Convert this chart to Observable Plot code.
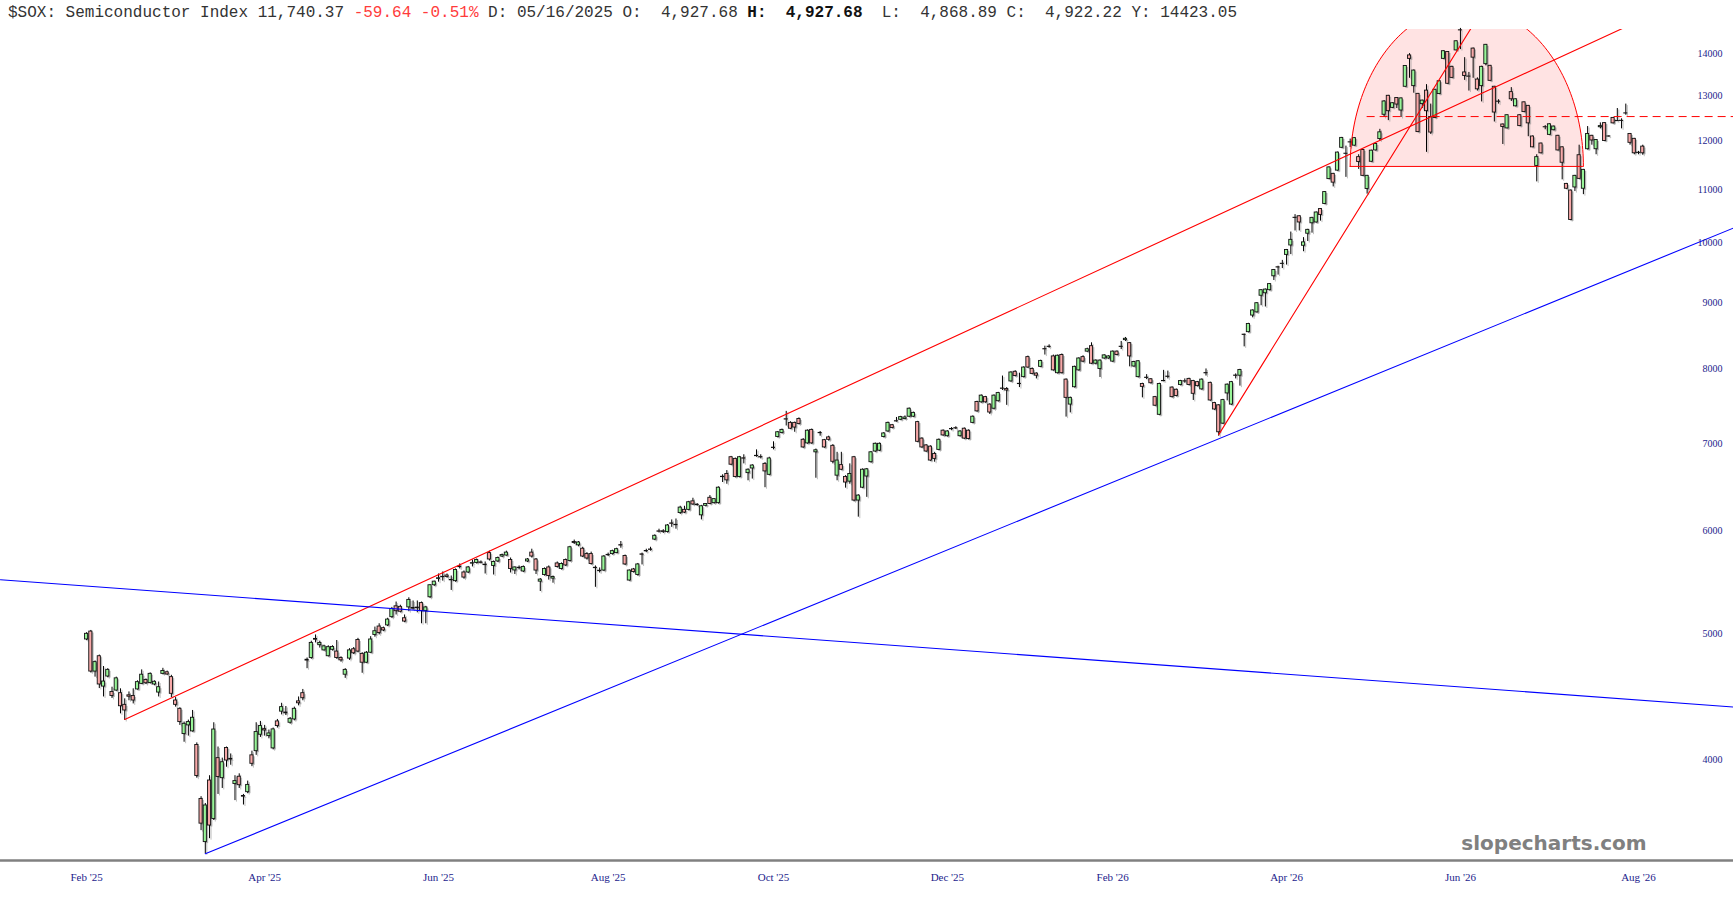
<!DOCTYPE html>
<html>
<head>
<meta charset="utf-8">
<script src="https://cdn.jsdelivr.net/npm/d3@7"></script>
<script src="https://cdn.jsdelivr.net/npm/@observablehq/plot@0.6"></script>
<style>
  html, body { margin: 0; padding: 0; background: #fff; overflow: hidden; }
  #wrap { position: relative; width: 1733px; height: 900px; }
  #hdr { position: absolute; left: 8px; top: 5px; margin: 0; font-family: "Liberation Mono", monospace; font-size: 16px; line-height: 16px; color: #333; white-space: pre; }
  #hdr .neg { color: #ff3b3b; }
  #hdr b { color: #111; }
  #wm { position: absolute; left: 1454px; top: 833px; width: 200px; text-align: center; font-family: "DejaVu Sans", sans-serif; font-weight: bold; font-size: 20px; line-height: 20px; color: #808080; }
  svg { display: block; max-width: none !important; }
</style>
</head>
<body>
<div id="wrap">
  <div id="chart"></div>
  <pre id="hdr">$SOX: Semiconductor Index 11,740.37 <span class="neg">-59.64 -0.51%</span> D: 05/16/2025 O:  4,927.68 <b>H:  4,927.68</b>  L:  4,868.89 C:  4,922.22 Y: 14423.05</pre>
  <div id="wm">slopecharts.com</div>
</div>
<script>
// ---- Daily candles (trading-day index 0..367) ----
const open = [4950,5020,4676,4805,4553,4635,4510,4521,4500,4408,
4483,4478,4530,4575,4607,4582,4570,4505,4657,4670,
4630,4442,4377,4185,4250,4205,4105,3730,3455,3854,
3600,4010,3870,4083,4005,3830,3880,3750,3775,4030,
4060,4180,4222,4170,4080,4280,4355,4348,4270,4295,
4435,4500,4775,4790,4955,4900,4855,4805,4860,4845,
4790,4650,4785,4865,4945,4825,4750,4835,4990,5065,
5050,5075,5150,5250,5245,5140,5240,5235,5238,5280,
5205,5335,5450,5512,5528,5545,5502,5490,5628,5575,
5575,5663,5670,5675,5652,5770,5640,5685,5735,5745,
5700,5595,5622,5585,5685,5775,5705,5485,5550,5625,
5515,5665,5610,5700,5690,5885,5850,5815,5760,5760,
5622,5592,5594,5752,5760,5770,5852,5740,5496,5605,
5550,5757,5792,5807,5910,5997,5998,5990,6082,6067,
6195,6230,6230,6325,6287,6170,6275,6365,6305,6305,
6607,6640,6840,6820,6605,6827,6650,6705,6857,6842,
6760,6630,6957,7090,7140,7317,7270,7270,7320,7055,
7010,7180,6900,7138,7050,7085,6980,6620,6745,6605,
6550,6840,6334,6480,6610,6780,6910,6920,7090,7160,
7240,7292,7310,7320,7350,7350,7280,7070,6985,6970,
6880,6930,7170,7100,7192,7202,7100,7195,7170,7270,
7545,7540,7610,7510,7455,7555,7727,7720,7825,7960,
7792,7885,8170,8000,7935,8030,8287,8322,8180,7940,
8200,7850,7510,7745,7980,8170,8250,8330,8075,8000,
8150,8150,8105,8250,8322,8420,8375,8035,7885,7790,
7877,7855,7610,7375,7832,7892,7740,7710,7775,7827,
7860,7830,7815,7715,7942,7805,7530,7500,7260,7660,
7510,7907,7905,8502,8540,8795,8845,9110,9150,9200,
9430,9582,9638,9795,9960,10462,10490,9955,10170,10360,
10375,10625,10720,11205,11310,11375,11845,11722,11962,11890,
11650,11800,11010,11555,11790,12030,12560,12990,12715,12940,
12655,13200,13955,13215,13035,12800,13110,12510,12490,13030,
13870,14040,13675,14080,14592,13540,13442,14125,13370,13215,
13740,13700,13200,12857,12345,12260,13075,12750,12550,12840,
12760,12085,11470,11935,12287,12120,12220,12100,11855,11110,
10980,11040,11690,11015,11815,12100,11815,12285,12375,12087,
12490,12418,12427,12592,12140,12035,11742,11870];

const high = [5010,5030,4765,4815,4718,4700,4548,4630,4535,4455,
4510,4535,4600,4690,4615,4665,4600,4590,4703,4680,
4645,4465,4385,4275,4290,4364,4120,3745,3700,3887,
4270,4090,4010,4090,4040,3887,3900,3760,3850,4060,
4270,4280,4250,4215,4230,4295,4420,4395,4310,4390,
4470,4530,4790,4935,4990,4935,4900,4895,4895,4941,
4800,4700,4870,4880,4960,4835,4845,4975,5060,5090,
5060,5140,5240,5290,5260,5170,5330,5300,5300,5290,
5250,5455,5490,5560,5580,5560,5540,5610,5660,5590,
5635,5700,5710,5690,5680,5790,5690,5730,5760,5790,
5720,5630,5640,5640,5715,5810,5715,5515,5620,5640,
5540,5680,5670,5710,5840,5905,5890,5830,5775,5780,
5640,5620,5745,5770,5800,5820,5890,5750,5600,5615,
5665,5770,5810,5830,5960,6020,6015,6070,6120,6130,
6270,6270,6325,6360,6300,6280,6300,6390,6355,6490,
6630,6680,6850,6830,6850,6870,6700,6750,6930,6870,
6775,6840,7030,7160,7190,7420,7285,7280,7335,7070,
7180,7190,6940,7160,7060,7100,6995,6900,6900,6620,
6760,6850,6400,6700,6705,6910,7015,7015,7145,7280,
7250,7340,7355,7360,7465,7410,7290,7080,6995,6980,
6900,7065,7180,7170,7210,7220,7170,7205,7180,7360,
7555,7640,7620,7520,7640,7675,7900,7740,7960,7975,
7940,8030,8185,8015,7945,8125,8330,8350,8200,8200,
8215,7860,7610,8040,8160,8190,8300,8380,8130,8130,
8205,8190,8260,8260,8400,8460,8385,8110,8120,7800,
7920,7865,7620,7800,7980,7970,7750,7720,7840,7860,
7870,7840,7825,7860,8000,7815,7540,7510,7580,7790,
7825,7930,7995,8510,8675,8885,9000,9210,9220,9310,
9545,9600,9700,9890,10200,10520,10500,10100,10250,10470,
10570,10635,10960,11450,11320,11755,12065,11880,12030,12060,
11700,11810,11280,11795,11935,12240,12880,13000,12830,12950,
12940,13705,14000,13600,13045,12890,13250,12800,13140,13340,
14070,14050,13690,14320,14640,13900,13540,14140,13410,13690,
14230,13710,13210,12900,12355,12560,13180,12920,12560,12850,
12770,12095,11700,11945,12320,12360,12310,12110,11865,11120,
10990,11280,11900,11400,12300,12110,12020,12380,12385,12100,
12500,12700,12470,12800,12150,12045,11770,11900];

const low = [4940,4665,4630,4537,4470,4625,4458,4515,4338,4287,
4440,4415,4525,4570,4570,4575,4560,4470,4650,4645,
4465,4390,4250,4125,4170,4200,3870,3526,3384,3476,
3590,3760,3800,3946,3960,3719,3800,3690,3765,3950,
4030,4160,4170,4150,4070,4230,4330,4325,4260,4285,
4400,4440,4700,4780,4920,4875,4850,4800,4850,4780,
4755,4620,4770,4820,4835,4662,4745,4830,4970,4990,
5020,5065,5140,5170,5190,5100,5200,5215,5190,5090,
5090,5325,5440,5480,5490,5520,5400,5480,5610,5510,
5565,5630,5660,5660,5560,5690,5550,5675,5725,5740,
5570,5555,5600,5575,5675,5720,5555,5390,5540,5500,
5470,5620,5600,5635,5680,5860,5835,5725,5700,5650,
5430,5570,5585,5735,5750,5765,5820,5645,5490,5570,
5540,5650,5775,5790,5900,5980,5975,5980,6040,6020,
6180,6190,6220,6280,6270,6120,6265,6290,6295,6295,
6540,6520,6740,6595,6595,6760,6560,6580,6840,6820,
6480,6620,6930,7080,7130,7230,7185,7150,7245,6950,
7000,7000,6590,7100,6950,7040,6760,6560,6680,6475,
6520,6320,6150,6470,6370,6770,6900,6910,7080,7150,
7195,7280,7300,7310,7340,7340,7020,6950,6900,6790,
6780,6920,7100,7090,7170,7185,7090,7060,7055,7260,
7410,7530,7530,7380,7440,7545,7700,7500,7815,7890,
7740,7875,8010,7920,7860,8020,8200,8300,7970,7930,
7930,7345,7400,7735,7970,8090,8240,8065,8060,7880,
8140,8140,8095,8190,8280,8400,8030,8025,7875,7600,
7850,7790,7485,7365,7820,7860,7600,7615,7765,7800,
7765,7565,7750,7705,7900,7555,7435,7100,7250,7560,
7500,7860,7760,8320,8530,8760,8835,8950,8930,9190,
9360,9450,9560,9620,9800,10220,10220,9850,10030,10180,
10365,10400,10710,11195,11050,11365,11835,11240,11850,11880,
11400,11260,10910,11545,11780,11990,12500,12430,12700,12700,
12500,13190,13400,13050,12170,12700,11750,12130,12480,13020,
13860,13260,13400,14070,14100,13350,13100,13400,13100,12850,
13700,13330,12400,12800,11915,12250,12860,12740,12300,12610,
12080,11850,11150,11720,12230,12110,12210,11780,11190,11000,
10410,10960,11200,10900,11800,11900,11700,12250,11980,12070,
12360,12410,12250,12550,11900,11700,11700,11690];

const close = [5000,4676,4755,4570,4594,4690,4478,4620,4397,4364,
4472,4442,4589,4650,4580,4657,4592,4548,4681,4652,
4495,4408,4275,4262,4275,4308,3885,3570,3687,3558,
4219,3878,3981,3993,4000,3850,3822,3745,3824,3970,
4200,4245,4212,4190,4220,4245,4390,4342,4300,4377,
4420,4460,4768,4920,4948,4920,4890,4883,4885,4790,
4770,4690,4855,4830,4845,4750,4835,4950,5023,5007,
5030,5128,5225,5205,5200,5110,5310,5228,5232,5205,
5240,5450,5485,5518,5532,5530,5498,5600,5633,5525,
5625,5668,5700,5671,5648,5705,5680,5720,5750,5775,
5610,5625,5618,5630,5705,5735,5594,5505,5610,5540,
5530,5630,5660,5645,5830,5875,5880,5735,5715,5660,
5618,5588,5735,5748,5790,5810,5848,5655,5594,5580,
5655,5753,5788,5803,5950,5993,5990,6060,6078,6063,
6255,6200,6315,6290,6283,6270,6295,6295,6350,6480,
6603,6565,6750,6605,6840,6823,6690,6740,6853,6838,
6670,6825,6953,7150,7180,7313,7195,7210,7255,6960,
7170,7010,6925,7142,6960,7055,6785,6800,6690,6540,
6640,6334,6390,6690,6695,6900,7005,7005,7135,7270,
7205,7288,7345,7340,7455,7400,7030,6960,6910,6800,
6820,7055,7110,7160,7188,7198,7160,7070,7065,7350,
7420,7630,7540,7405,7630,7665,7723,7700,7950,7900,
7788,8020,8020,7930,7905,8115,8283,8318,7980,8190,
7940,7600,7600,8030,8150,8105,8285,8075,8120,8120,
8195,8180,8250,8200,8318,8440,8180,8100,8110,7750,
7873,7800,7495,7790,7828,7888,7610,7625,7830,7823,
7775,7655,7760,7850,7938,7565,7445,7150,7570,7780,
7815,7903,7985,8498,8665,8875,8990,9200,9210,9300,
9535,9578,9642,9880,10060,10458,10375,10015,10240,10460,
10560,10515,10950,11440,11135,11745,12055,11718,11958,12050,
11550,11270,11270,11785,11925,12175,12860,12640,12820,12790,
12930,13695,13870,13585,12180,12880,12640,12170,13130,13330,
14060,13270,13410,14310,14588,13455,13438,13900,13140,13675,
14220,13340,12610,12853,12290,12550,12910,12910,12310,12620,
12370,11855,11650,11730,12283,12350,12300,11790,11535,11015,
10420,11270,11210,11390,12140,12000,12010,12310,11990,12083,
12370,12422,12423,12588,11950,11730,11738,11730];

// ---- axis ticks ----
const xTickIdx = [0, 42, 83, 123, 162, 203, 242, 283, 324, 366];
const xTickLabels = ["Feb '25", "Apr '25", "Jun '25", "Aug '25", "Oct '25", "Dec '25", "Feb '26", "Apr '26", "Jun '26", "Aug '26"];
const yTicks = [4000, 5000, 6000, 7000, 8000, 9000, 10000, 11000, 12000, 13000, 14000];

// ---- drawn annotations (index, price) ----
const redChannel = [[9, 4295], [298.1, 11718]];
const redSteep = [[267, 7120], [298.1, 10379]];
const blueSupport = [[28, 3384], [298.1, 7778]];
const blueFalling = [[0, 5442], [367, 4443]];
const dome = {center: 325.5, halfWidth: 27.5, base: 11460, top: 15230};
const dashedLevel = {from: 302, value: 12520};

// ---- scales ----
const xDomain = [-20.3, 388.4];
const yDomain = [3344, 14612];

const candles = open.map((o, i) => ({i, o, h: high[i], l: low[i], c: close[i], up: close[i] >= o}));

function extend(p0, p1, xa, xb) {
  const s = (Math.log(p1[1]) - Math.log(p0[1])) / (p1[0] - p0[0]);
  const f = x => Math.exp(Math.log(p0[1]) + s * (x - p0[0]));
  return [{x: xa, y: f(xa)}, {x: xb, y: f(xb)}];
}
const red1 = extend(redChannel[0], redChannel[1], redChannel[0][0], xDomain[1]);
const red2 = extend(redSteep[0], redSteep[1], redSteep[0][0], xDomain[1]);
const blue1 = extend(blueSupport[0], blueSupport[1], blueSupport[0][0], xDomain[1]);
const blue2 = extend(blueFalling[0], blueFalling[1], xDomain[0], xDomain[1]);

const domePts = d3.range(0, 121).map(k => {
  const t = Math.PI * k / 120;
  return {x: dome.center + dome.halfWidth * Math.cos(t), y: dome.base * Math.pow(dome.top / dome.base, Math.sin(t))};
});

const GREEN = "#98f598", PINK = "#f7a8a8", NAVY = "#1c1c8c";
const hw = 0.37;

const chart = Plot.plot({
  width: 1733,
  height: 900,
  marginTop: 29,
  marginBottom: 40,
  marginLeft: 0,
  marginRight: 0,
  x: {domain: xDomain, axis: null},
  y: {type: "log", domain: yDomain, axis: null},
  style: {fontFamily: "'Liberation Serif', serif", background: "white", color: NAVY, maxWidth: "none"},
  marks: [
    Plot.areaY(domePts, {x: "x", y1: dome.base, y2: "y", fill: "#ff0000", fillOpacity: 0.11, clip: true}),
    // candle shadows
    Plot.ruleX(candles, {x: "i", y1: "l", y2: "h", stroke: "#8a8a8a", strokeOpacity: 0.55, strokeWidth: 1, dx: 1.5, dy: 1.5}),
    Plot.rect(candles, {x1: d => d.i - hw, x2: d => d.i + hw, y1: "o", y2: "c", fill: "#8a8a8a", fillOpacity: 0.55, dx: 1.8, dy: 1.5}),
    // wicks & bodies
    Plot.ruleX(candles, {x: "i", y1: "l", y2: "h", stroke: "#000", strokeWidth: 1}),
    Plot.rect(candles, {x1: d => d.i - hw, x2: d => d.i + hw, y1: "o", y2: "c", fill: d => d.up ? GREEN : PINK, stroke: "#111", strokeWidth: 0.9}),
    // dome outline
    Plot.line(domePts, {x: "x", y: "y", stroke: "#ff0000", strokeWidth: 1, clip: true}),
    Plot.ruleY([dome.base], {x1: dome.center - dome.halfWidth, x2: dome.center + dome.halfWidth, stroke: "#ff0000", strokeWidth: 1}),
    Plot.ruleY([dashedLevel.value], {x1: dashedLevel.from, x2: xDomain[1], stroke: "#ff0000", strokeWidth: 1, strokeDasharray: "8,5"}),
    // trendlines
    Plot.line(red1, {x: "x", y: "y", stroke: "#ff0000", strokeWidth: 1.1, clip: true}),
    Plot.line(red2, {x: "x", y: "y", stroke: "#ff0000", strokeWidth: 1.1, clip: true}),
    Plot.line(blue1, {x: "x", y: "y", stroke: "#0000ff", strokeWidth: 1.1, clip: true}),
    Plot.line(blue2, {x: "x", y: "y", stroke: "#0000ff", strokeWidth: 1.1, clip: true}),
    // axes
    Plot.ruleY([yDomain[0]], {stroke: "#808080", strokeWidth: 2.5}),
    Plot.axisX({ticks: xTickIdx, tickFormat: d => xTickLabels[xTickIdx.indexOf(d)], tickSize: 0, tickPadding: 13, fontSize: 11, fill: NAVY, label: null}),
    Plot.axisY({anchor: "right", ticks: yTicks, tickFormat: d => String(d), tickSize: 0, tickPadding: 0, dx: -11, textAnchor: "end", fontSize: 10, fill: NAVY, label: null})
  ]
});
document.getElementById("chart").appendChild(chart);
</script>
</body>
</html>
